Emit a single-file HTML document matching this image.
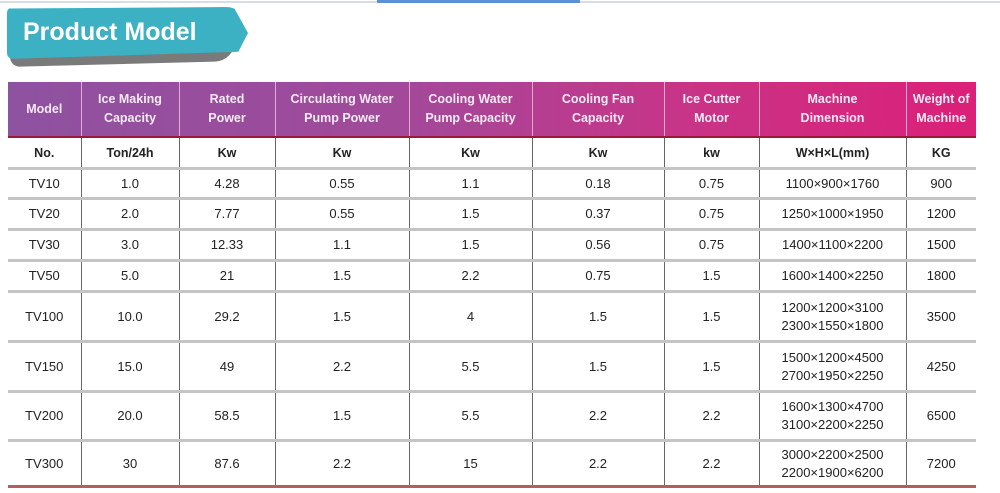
<!DOCTYPE html>
<html><head><style>
body{margin:0;width:1000px;height:493px;background:#fff;position:relative;overflow:hidden;font-family:"Liberation Sans",sans-serif;}
.top{position:absolute;left:0;top:1px;width:1000px;height:2px;background:#d8dde4}
.topb{position:absolute;left:377px;top:0;width:203px;height:3px;background:#5b8fd6}
.shadow{position:absolute;left:10px;top:20px;width:225px;height:44px;background:#7a7a7a;border-radius:6px 8px 20px 10px;transform:skewY(-1.5deg)}
.badge{position:absolute;left:7px;top:7px;width:241px;height:52px;background:#3cb1c3;border-radius:6px 22px 14px 6px;clip-path:polygon(0 3%,94% 0,100% 50%,96% 86%,0 100%)}
.title{position:absolute;left:23px;top:18px;color:#fff;font-weight:bold;font-size:25px;}
table{position:absolute;left:8px;top:82px;border-collapse:collapse;width:968px;table-layout:fixed}
th{color:#fff;font-size:12.5px;line-height:19px;height:54px;padding:0;border-left:1px solid #e8a8d0;border-bottom:2px solid #9a1838;font-weight:bold;color:#f4eaf4}
thead tr{background:linear-gradient(90deg,#8d52a0 0%,#a2499a 40%,#c83487 70%,#dc1f78 100%)}
td{text-align:center;font-size:13px;color:#222;padding:0;border-left:1px solid #666;border-bottom:3px solid #c4c4c4;line-height:18px}
td:first-child,th:first-child{border-left:none}
tr.u td{font-weight:bold;height:29px;font-size:12.5px}
tr.last td{border-bottom:3px solid #b06060}
</style></head><body>
<div class="top"></div><div class="topb"></div>
<div class="shadow"></div>
<div class="badge"></div>
<div class="title">Product Model</div>
<table>
<colgroup><col style="width:73px"><col style="width:98px"><col style="width:96px"><col style="width:134px"><col style="width:123px"><col style="width:132px"><col style="width:95px"><col style="width:147px"><col style="width:70px"></colgroup>
<thead><tr><th>Model</th><th>Ice Making<br>Capacity</th><th>Rated<br>Power</th><th>Circulating Water<br>Pump Power</th><th>Cooling Water<br>Pump Capacity</th><th>Cooling Fan<br>Capacity</th><th>Ice Cutter<br>Motor</th><th>Machine<br>Dimension</th><th>Weight of<br>Machine</th></tr></thead>
<tbody>
<tr class="u"><td>No.</td><td>Ton/24h</td><td>Kw</td><td>Kw</td><td>Kw</td><td>Kw</td><td>kw</td><td>W×H×L(mm)</td><td>KG</td></tr>
<tr style="height:30px"><td>TV10</td><td>1.0</td><td>4.28</td><td>0.55</td><td>1.1</td><td>0.18</td><td>0.75</td><td>1100×900×1760</td><td>900</td></tr>
<tr style="height:31px"><td>TV20</td><td>2.0</td><td>7.77</td><td>0.55</td><td>1.5</td><td>0.37</td><td>0.75</td><td>1250×1000×1950</td><td>1200</td></tr>
<tr style="height:31px"><td>TV30</td><td>3.0</td><td>12.33</td><td>1.1</td><td>1.5</td><td>0.56</td><td>0.75</td><td>1400×1100×2200</td><td>1500</td></tr>
<tr style="height:31px"><td>TV50</td><td>5.0</td><td>21</td><td>1.5</td><td>2.2</td><td>0.75</td><td>1.5</td><td>1600×1400×2250</td><td>1800</td></tr>
<tr style="height:50px"><td>TV100</td><td>10.0</td><td>29.2</td><td>1.5</td><td>4</td><td>1.5</td><td>1.5</td><td>1200×1200×3100<br>2300×1550×1800</td><td>3500</td></tr>
<tr style="height:50px"><td>TV150</td><td>15.0</td><td>49</td><td>2.2</td><td>5.5</td><td>1.5</td><td>1.5</td><td>1500×1200×4500<br>2700×1950×2250</td><td>4250</td></tr>
<tr style="height:49px"><td>TV200</td><td>20.0</td><td>58.5</td><td>1.5</td><td>5.5</td><td>2.2</td><td>2.2</td><td>1600×1300×4700<br>3100×2200×2250</td><td>6500</td></tr>
<tr class="last" style="height:46px"><td>TV300</td><td>30</td><td>87.6</td><td>2.2</td><td>15</td><td>2.2</td><td>2.2</td><td>3000×2200×2500<br>2200×1900×6200</td><td>7200</td></tr>
</tbody></table>
</body></html>
